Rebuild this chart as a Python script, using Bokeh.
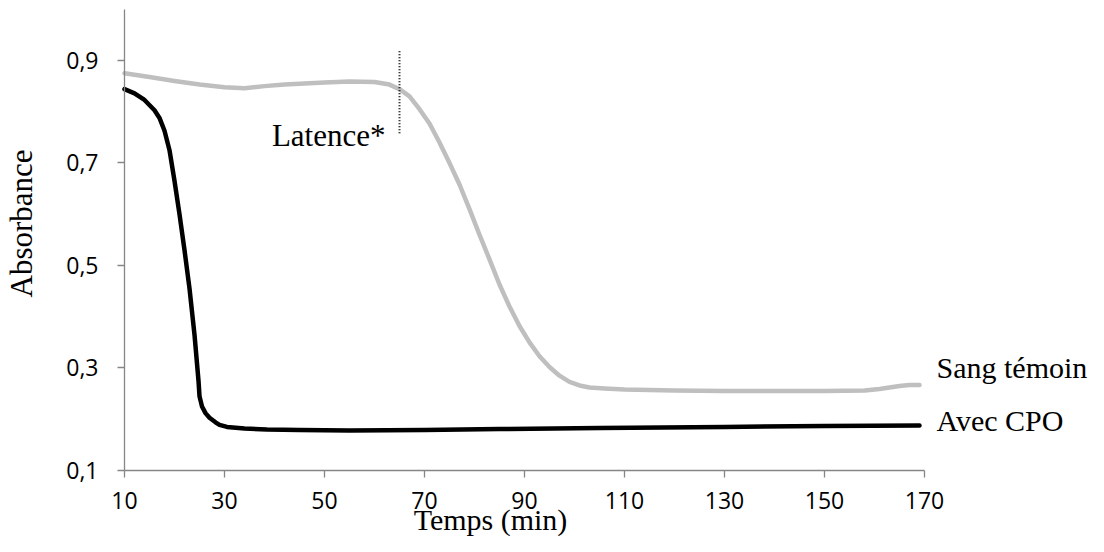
import math
from bokeh.plotting import figure
from bokeh.models import Label, FixedTicker, LinearAxis
from bokeh.embed import file_html
from bokeh.resources import INLINE

# --- Data ---
temps_temoin = [10, 15, 20, 25, 30, 34, 38, 42, 46, 50, 55, 60, 63, 65, 67, 69, 71,
                73, 75, 77, 79, 81, 83, 85, 87, 89, 91, 93, 95, 97, 99, 101, 103,
                106, 110, 120, 130, 140, 150, 158, 161, 163, 165, 167, 169]
abs_temoin = [0.875, 0.868, 0.860, 0.853, 0.848, 0.846, 0.850, 0.853, 0.855, 0.857,
              0.859, 0.858, 0.853, 0.844, 0.830, 0.805, 0.777, 0.740, 0.700, 0.658,
              0.610, 0.560, 0.512, 0.463, 0.420, 0.382, 0.350, 0.323, 0.302, 0.285,
              0.273, 0.266, 0.262, 0.260, 0.258, 0.256, 0.255, 0.255, 0.255, 0.256,
              0.259, 0.262, 0.265, 0.267, 0.267]

temps_cpo = [10, 12, 14, 16, 17, 18, 19, 20, 21, 22, 23, 24, 24.8, 25.0, 25.5, 26.2,
             27, 28.2, 29, 30.5, 34, 38.5, 45, 55, 70, 85, 105, 130, 150, 169]
abs_cpo = [0.844, 0.836, 0.823, 0.803, 0.788, 0.763, 0.725, 0.665, 0.600, 0.530,
           0.455, 0.365, 0.275, 0.245, 0.225, 0.212, 0.203, 0.194, 0.189, 0.185,
           0.182, 0.180, 0.179, 0.178, 0.179, 0.181, 0.183, 0.185, 0.187, 0.188]

x_ticks = [10, 30, 50, 70, 90, 110, 130, 150, 170]
y_ticks = [0.1, 0.3, 0.5, 0.7, 0.9]
y_tick_labels = ["0,1", "0,3", "0,5", "0,7", "0,9"]
x_bounds = (10, 170)
y_bounds = (0.1, 1.0)

latence_t = 65
latence_y0 = 0.758
latence_y1 = 0.921

serie_temoin = "Sang témoin"
serie_cpo = "Avec CPO"
annotation = "Latence*"
x_title = "Temps (min)"
y_title = "Absorbance"

# --- Figure: the frame covers the whole canvas, axes are pinned at the origin ---
p = figure(width=1088, height=536, x_range=(-14.8, 202.8), y_range=(-0.02878, 1.01707),
           output_backend="svg", toolbar_location=None,
           x_axis_type=None, y_axis_type=None,
           min_border=0, min_border_left=0, min_border_right=0,
           min_border_top=0, min_border_bottom=0)
p.outline_line_color = None
p.background_fill_color = "white"
p.border_fill_color = "white"

axis_col = "#868686"
xaxis = LinearAxis(ticker=FixedTicker(ticks=x_ticks), fixed_location=y_bounds[0],
                   bounds=x_bounds)
yaxis = LinearAxis(ticker=FixedTicker(ticks=y_ticks), fixed_location=x_bounds[0],
                   bounds=y_bounds)
yaxis.major_label_overrides = {t: l for t, l in zip(y_ticks, y_tick_labels)}
for ax in (xaxis, yaxis):
    ax.axis_line_color = axis_col
    ax.axis_line_width = 1.3
    ax.major_tick_line_color = axis_col
    ax.major_tick_line_width = 1.3
    ax.major_tick_in = 0
    ax.major_tick_out = 7
    ax.minor_tick_line_color = None
    ax.major_label_text_font = "Open Sans"
    ax.major_label_text_font_size = "23px"
    ax.major_label_text_color = "#000000"
xaxis.major_label_standoff = 14
yaxis.major_label_standoff = 19
p.add_layout(xaxis, "below")
p.add_layout(yaxis, "left")

# --- Series ---
p.line(temps_temoin, abs_temoin, line_color="#BFBFBF", line_width=4.5,
       line_join="round", line_cap="round")
p.line(temps_cpo, abs_cpo, line_color="#000000", line_width=4.5,
       line_join="round", line_cap="round")

# latency marker
p.segment(x0=[latence_t], y0=[latence_y0], x1=[latence_t], y1=[latence_y1],
          line_color="#000000", line_width=2, line_dash="1 2")

serif = "Liberation Serif"
def add_label(txt, x, y, size, align="left", angle=0.0, baseline="alphabetic"):
    p.add_layout(Label(x=x, y=y, text=txt, text_font=serif, text_font_size=size,
                       text_align=align, text_baseline=baseline, angle=angle,
                       text_color="#000000"))

add_label(annotation, 62.2, 0.7537, "31px", align="right")
add_label(serie_temoin, 172.4, 0.3010, "30px")
add_label(serie_cpo, 172.4, 0.1976, "30px")
add_label(x_title, 83.2, 0.0044, "30px", align="center")
add_label(y_title, -10.7, 0.582, "31px", align="center", angle=math.pi / 2,
          baseline="middle")

open("out.html", "w").write(file_html(p, INLINE))
